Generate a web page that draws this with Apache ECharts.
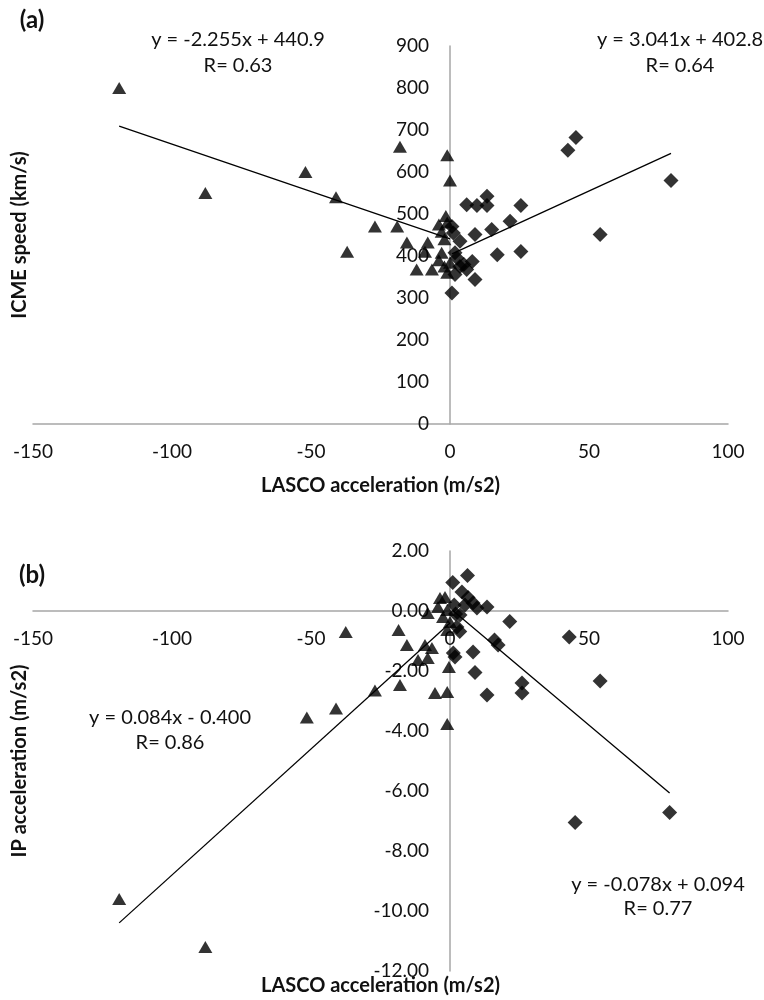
<!DOCTYPE html>
<html>
<head>
<meta charset="utf-8">
<script src="https://cdn.jsdelivr.net/npm/echarts@6/dist/echarts.min.js"></script>
<style>
html, body { margin: 0; padding: 0; background: #fff; }
#chart { width: 764px; height: 1000px; }
</style>
</head>
<body>
<div id="chart"></div>
<script>
// (a) LASCO acceleration vs ICME speed
const speedDecel = [
    [-119, 800], [-88, 550], [-52, 600], [-41, 540], [-37, 410], [-27, 470],
    [-19, 470], [-18, 660], [-15.5, 432], [-12, 368], [-9, 410], [-8, 432],
    [-6.5, 368], [-4, 475], [-3, 458], [-3, 408], [-2, 440], [-1, 480],
    [-1, 360], [-1, 640], [0, 580], [0, 384], [-4, 390], [-2, 375], [-1.5, 495]
];
const speedAccel = [
    [0.7, 470], [1.2, 455], [1.8, 408], [1.8, 356], [3.6, 435], [3.6, 375],
    [0.7, 312], [6, 522], [6, 368], [8, 387], [9, 451], [9, 344], [9.7, 520],
    [13.3, 542], [13.3, 520], [15, 463], [17, 403], [21.6, 483], [25.5, 520],
    [25.5, 411], [42.4, 652], [45.3, 682], [54, 451], [79.5, 580], [2.5, 395], [5, 380]
];
// (b) LASCO acceleration vs IP acceleration
const ipDecel = [
    [-119, -9.6], [-88, -11.2], [-51.5, -3.55], [-41, -3.25], [-37.5, -0.7], [-27, -2.65],
    [-18.5, -0.63], [-18, -2.47], [-15.5, -1.13], [-11.5, -1.63], [-9, -1.13], [-8, -1.57],
    [-8, -0.07], [-6.5, -1.23], [-5.4, -2.73], [-4.3, 0.13], [-3.6, 0.43], [-2.5, -0.2],
    [-1.8, 0.47], [-1, 0.03], [-1, -2.7], [-1, -3.77], [-0.4, -1.87], [0, -0.37], [-1, -0.63]
];
const ipAccel = [
    [1, 0.95], [6.3, 1.18], [4.3, 0.63], [6.5, 0.45], [8.3, 0.27], [5.4, 0.2],
    [9.7, 0.1], [13.3, 0.13], [3.6, -0.13], [2.5, -0.53], [3.5, -0.68], [16, -0.97],
    [17.3, -1.13], [21.5, -0.35], [1.2, -1.4], [1.8, -1.53], [8.3, -1.37], [9, -2.05],
    [13.3, -2.8], [25.9, -2.4], [25.9, -2.73], [42.9, -0.87], [54, -2.33], [45, -7.05],
    [79, -6.72], [2, -0.1], [1.5, 0.2]
];

const xRange = [-150, 100, 50];
const speedRange = [0, 900, 100];
const ipRange = [-12, 2, 2];

// trendlines: order = (a) decel, (a) accel, (b) decel, (b) accel
const fitSlopes = [-2.255, 3.041, 0.084, -0.078];
const fitIntercepts = [440.9, 402.8, -0.400, 0.094];
const fitLabels = ['y = -2.255x + 440.9', 'y = 3.041x + 402.8', 'y = 0.084x - 0.400', 'y = -0.078x + 0.094'];
const fitR = ['R= 0.63', 'R= 0.64', 'R= 0.86', 'R= 0.77'];

const FONT = 'Lato, "Open Sans", sans-serif';
const axisGrey = '#a6a6a6';

// grid boxes (px)
const gridLeft = 33, gridWidth = 695;
const gridA = { top: 46, height: 378 };
const gridB = { top: 551, height: 420 };

// the axes cross at zero like the Excel original: shift whole axis (line + labels) there
const yAxisShift = -gridWidth * (0 - xRange[0]) / (xRange[1] - xRange[0]);
const xAxisShiftB = -gridB.height * (0 - ipRange[0]) / (ipRange[1] - ipRange[0]);

function fitLine(pts, i) {
    const xs = pts.map(p => p[0]);
    const lo = Math.min.apply(null, xs), hi = Math.max.apply(null, xs);
    return [[lo, fitSlopes[i] * lo + fitIntercepts[i]], [hi, fitSlopes[i] * hi + fitIntercepts[i]]];
}

function xAxisCfg(gridIndex, gap, shift) {
    return {
        type: 'value', gridIndex: gridIndex, position: 'bottom', offset: shift,
        min: xRange[0], max: xRange[1], interval: xRange[2],
        name: 'LASCO acceleration (m/s2)', nameLocation: 'middle', nameGap: gap,
        nameTextStyle: { fontFamily: FONT, fontWeight: 'bold', fontSize: 20, color: '#111' },
        axisLine: { onZero: false, lineStyle: { color: axisGrey, width: 1.5 } },
        axisTick: { show: false },
        splitLine: { show: false },
        axisLabel: { fontFamily: FONT, fontSize: 19, color: '#111', margin: 18 }
    };
}

function yAxisCfg(gridIndex, range, name, fmt) {
    return {
        type: 'value', gridIndex: gridIndex, position: 'left', offset: yAxisShift,
        min: range[0], max: range[1], interval: range[2],
        name: name, nameLocation: 'middle', nameGap: 420,
        nameTextStyle: { fontFamily: FONT, fontWeight: 'bold', fontSize: 20, color: '#111' },
        axisLine: { onZero: false, lineStyle: { color: axisGrey, width: 1.5 } },
        axisTick: { show: false },
        splitLine: { show: false },
        axisLabel: { fontFamily: FONT, fontSize: 19, color: '#111', margin: 21, formatter: fmt }
    };
}

function scatter(data, idx, symbol, size) {
    return {
        type: 'scatter', xAxisIndex: idx, yAxisIndex: idx, data: data,
        symbol: symbol, symbolSize: size,
        itemStyle: { color: '#000' }, silent: true, animation: false
    };
}

function trend(pts, idx, i) {
    return {
        type: 'line', xAxisIndex: idx, yAxisIndex: idx, data: fitLine(pts, i),
        symbol: 'none', lineStyle: { color: '#000', width: 1.3 }, silent: true, animation: false, z: 3
    };
}

function label(text, x, y, opts) {
    return {
        type: 'text', x: x, y: y, silent: true,
        style: Object.assign({
            text: text, fill: '#111', font: '20px ' + FONT,
            textAlign: 'center', textVerticalAlign: 'middle', align: 'center', verticalAlign: 'middle'
        }, opts || {})
    };
}

const chart = echarts.init(document.getElementById('chart'));
chart.setOption({
    backgroundColor: '#fff',
    animation: false,
    grid: [
        { left: gridLeft, width: gridWidth, top: gridA.top, height: gridA.height, outerBoundsMode: 'none', containLabel: false },
        { left: gridLeft, width: gridWidth, top: gridB.top, height: gridB.height, outerBoundsMode: 'none', containLabel: false }
    ],
    xAxis: [xAxisCfg(0, 52, 0), xAxisCfg(1, 365, xAxisShiftB)],
    yAxis: [
        yAxisCfg(0, speedRange, 'ICME speed (km/s)', v => String(v)),
        yAxisCfg(1, ipRange, 'IP acceleration (m/s2)', v => v.toFixed(2))
    ],
    series: [
        scatter(speedDecel, 0, 'triangle', [14, 12]),
        scatter(speedAccel, 0, 'diamond', [15, 15]),
        trend(speedDecel, 0, 0),
        trend(speedAccel, 0, 1),
        scatter(ipDecel, 1, 'triangle', [14, 12]),
        scatter(ipAccel, 1, 'diamond', [15, 15]),
        trend(ipDecel, 1, 2),
        trend(ipAccel, 1, 3)
    ],
    graphic: [
        label('(a)', 32, 20, { font: 'bold 24px ' + FONT }),
        label('(b)', 32, 575, { font: 'bold 24px ' + FONT }),
        label(fitLabels[0], 238, 40), label(fitR[0], 238, 66),
        label(fitLabels[1], 680, 40), label(fitR[1], 680, 66),
        label(fitLabels[2], 170, 718), label(fitR[2], 170, 743),
        label(fitLabels[3], 658, 885), label(fitR[3], 658, 909)
    ]
});
</script>
</body>
</html>
